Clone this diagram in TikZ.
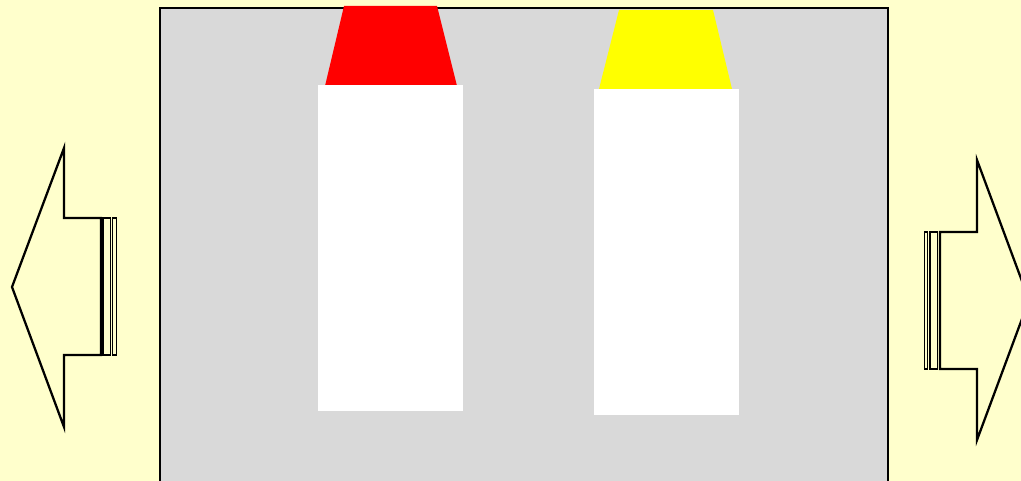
\documentclass[tikz,border=0pt]{standalone}
\usetikzlibrary{calc}

\definecolor{bgyellow}{HTML}{FFFFCC}
\definecolor{panelgray}{HTML}{D9D9D9}
\definecolor{capred}{HTML}{FF0000}
\definecolor{capyellow}{HTML}{FFFF00}

\tikzset{
  arrowbody/.style={draw=black,line width=1.7pt,fill=bgyellow,line join=miter},
  stripe/.style={draw=black,line width=1.2pt,fill=bgyellow},
  tube/.style={fill=white,draw=none},
}

\begin{document}
\begin{tikzpicture}[x=0.75pt,y=-0.75pt]
  % background and frame
  \fill[bgyellow] (0,0) rectangle (1021,481);
  \useasboundingbox (0,0) rectangle (1021,481);
  \draw[fill=panelgray,line width=1.7pt] (160,8) rectangle (888,482);
  % caps
  \fill[capred] (344,6) -- (437,6) -- (457,86) -- (325,86) -- cycle;
  \fill[capyellow] (619,10) -- (713,10) -- (732,89) -- (599,89) -- cycle;
  % tubes
  \fill[tube] (318,85) rectangle (463,411);
  \fill[tube] (594,89) rectangle (739,415);
  % left arrow
  \draw[arrowbody] (101,218) -- (64,218) -- (64,148) -- (12,287)
    -- (64,427) -- (64,355) -- (101,355) -- cycle;
  \draw[stripe] (103,218) rectangle (110.5,355);
  \draw[stripe] (112.5,218) rectangle (116.5,355);
  % right arrow
  \draw[arrowbody] (940,232) -- (977,232) -- (977,160) -- (1029,300)
    -- (977,440) -- (977,369) -- (940,369) -- cycle;
  \draw[stripe] (924.5,232) rectangle (927.5,369);
  \draw[stripe] (930,232) rectangle (937.5,369);
\end{tikzpicture}
\end{document}
